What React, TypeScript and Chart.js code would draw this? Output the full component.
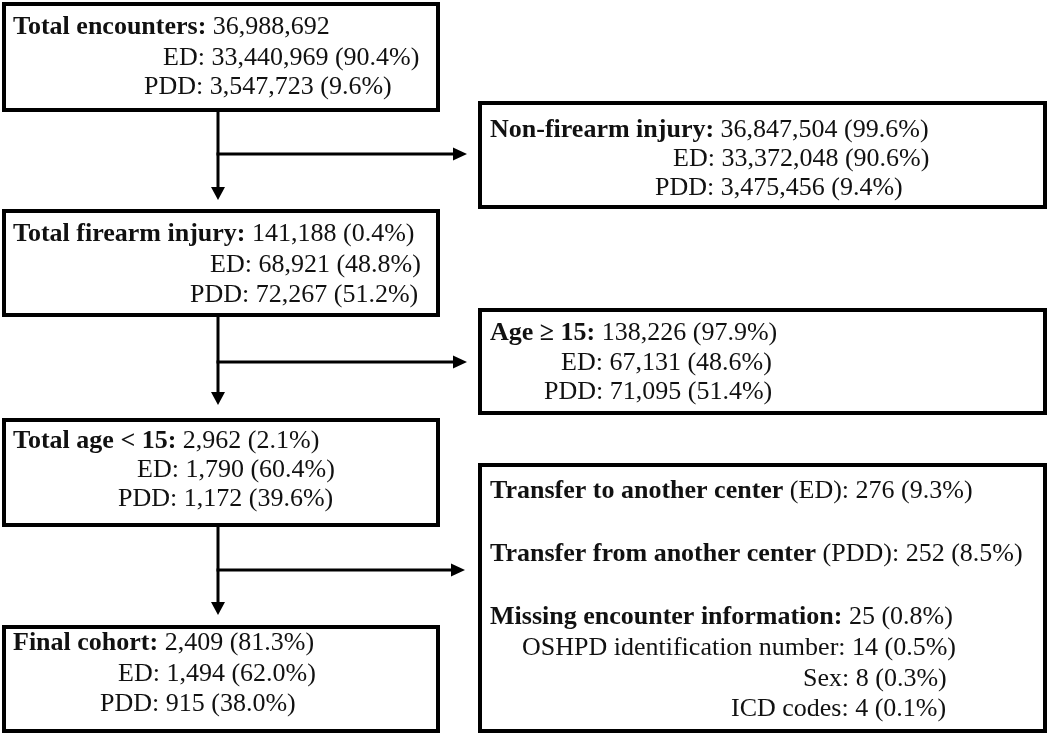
import React, { useEffect, useRef } from "react";
import { Chart, registerables } from "chart.js";

Chart.register(...registerables);

// ---------- Data ----------
const stageLabels = [
  "Total encounters:",
  "Non-firearm injury:",
  "Total firearm injury:",
  "Age \u2265 15:",
  "Total age < 15:",
  "Final cohort:",
];
const stageTotals = [
  "36,988,692",
  "36,847,504 (99.6%)",
  "141,188 (0.4%)",
  "138,226 (97.9%)",
  "2,962 (2.1%)",
  "2,409 (81.3%)",
];
const stageED = [
  "ED: 33,440,969 (90.4%)",
  "ED: 33,372,048 (90.6%)",
  "ED: 68,921 (48.8%)",
  "ED: 67,131 (48.6%)",
  "ED: 1,790 (60.4%)",
  "ED: 1,494 (62.0%)",
];
const stagePDD = [
  "PDD: 3,547,723 (9.6%)",
  "PDD: 3,475,456 (9.4%)",
  "PDD: 72,267 (51.2%)",
  "PDD: 71,095 (51.4%)",
  "PDD: 1,172 (39.6%)",
  "PDD: 915 (38.0%)",
];
const exclusionLabels = [
  "Transfer to another center",
  "Transfer from another center",
  "Missing encounter information:",
];
const exclusionValues = ["(ED): 276 (9.3%)", "(PDD): 252 (8.5%)", "25 (0.8%)"];
const missingItems = [
  "OSHPD identification number: 14 (0.5%)",
  "Sex: 8 (0.3%)",
  "ICD codes: 4 (0.1%)",
];

// ---------- Layout (positions in canvas units) ----------
const stageRects = [
  [4, 4, 438, 110],
  [480, 103, 1045, 207],
  [4, 211, 438, 315],
  [480, 310, 1045, 413],
  [4, 420, 438, 525],
  [4, 627, 438, 731],
];
const exclusionRect = [480, 465, 1045, 731];
// [titleX, edX, pddX], [titleY, edY, pddY] (baselines)
const stageTextX = [
  [13, 163, 144],
  [490, 673, 655],
  [13, 210, 190],
  [490, 561, 544],
  [13, 137, 118],
  [13, 118, 100],
];
const stageTextY = [
  [34, 65, 94],
  [137, 166, 195],
  [241, 272, 302],
  [340, 370, 399],
  [448, 477, 506],
  [650, 681, 711],
];
const exclusionTextX = [490, 490, 490];
const exclusionTextY = [498, 561, 624];
const missingTextX = [522, 803, 731];
const missingTextY = [655, 686, 716];
const connectors = [
  { x: 218, from: 110, tip: 200, branchY: 154, branchTip: 467 },
  { x: 218, from: 315, tip: 405, branchY: 362, branchTip: 467 },
  { x: 218, from: 525, tip: 615, branchY: 570, branchTip: 465 },
];

const FONT_FAMILY = '"Liberation Serif", "Times New Roman", serif';
const FONT_SIZE = 26;
const TEXT_COLOR = "#111";

type Seg = { t: string; b: boolean };
type TextLine = { segs: Seg[]; x: number; y: number };

function buildTextLines(): TextLine[] {
  const lines: TextLine[] = [];
  stageLabels.forEach((label, i) => {
    lines.push({
      segs: [
        { t: label + " ", b: true },
        { t: stageTotals[i], b: false },
      ],
      x: stageTextX[i][0],
      y: stageTextY[i][0],
    });
    lines.push({ segs: [{ t: stageED[i], b: false }], x: stageTextX[i][1], y: stageTextY[i][1] });
    lines.push({ segs: [{ t: stagePDD[i], b: false }], x: stageTextX[i][2], y: stageTextY[i][2] });
  });
  exclusionLabels.forEach((label, i) => {
    lines.push({
      segs: [
        { t: label + " ", b: true },
        { t: exclusionValues[i], b: false },
      ],
      x: exclusionTextX[i],
      y: exclusionTextY[i],
    });
  });
  missingItems.forEach((item, i) => {
    lines.push({ segs: [{ t: item, b: false }], x: missingTextX[i], y: missingTextY[i] });
  });
  return lines;
}

function rectPath(r: number[]) {
  return [
    { x: r[0], y: r[1] },
    { x: r[2], y: r[1] },
    { x: r[2], y: r[3] },
    { x: r[0], y: r[3] },
    { x: r[0], y: r[1] },
    { x: r[2], y: r[1] },
  ];
}

export default function App() {
  const ref = useRef<HTMLCanvasElement>(null);

  useEffect(() => {
    const canvas = ref.current;
    if (!canvas) return;

    const boxStyle = {
      showLine: true,
      borderColor: "#000",
      borderWidth: 4,
      pointRadius: 0,
      fill: false,
      tension: 0,
      clip: false,
      borderJoinStyle: "miter",
      borderCapStyle: "butt",
    };
    const connStyle = {
      showLine: true,
      borderColor: "#000",
      borderWidth: 3,
      pointRadius: 0,
      fill: false,
      tension: 0,
      clip: false,
      borderJoinStyle: "miter",
      borderCapStyle: "butt",
    };

    const datasets: any[] = [];
    [...stageRects, exclusionRect].forEach((r) => {
      datasets.push({ ...boxStyle, data: rectPath(r) });
    });
    connectors.forEach((c) => {
      datasets.push({
        ...connStyle,
        data: [
          { x: c.x, y: c.from },
          { x: c.x, y: c.tip - 10 },
        ],
      });
      datasets.push({
        ...connStyle,
        data: [
          { x: c.x - 1.5, y: c.branchY },
          { x: c.branchTip - 10, y: c.branchY },
        ],
      });
    });

    const bgPlugin = {
      id: "bg",
      beforeDraw(chart: any) {
        const ctx = chart.ctx;
        ctx.save();
        ctx.fillStyle = "#fff";
        ctx.fillRect(0, 0, chart.width, chart.height);
        ctx.restore();
      },
    };

    const textLines = buildTextLines();
    const overlayPlugin = {
      id: "overlay",
      afterDatasetsDraw(chart: any) {
        const ctx = chart.ctx as CanvasRenderingContext2D;
        const xs = chart.scales.x;
        const ys = chart.scales.y;
        ctx.save();
        // arrowheads
        ctx.fillStyle = "#000";
        connectors.forEach((c) => {
          const px = xs.getPixelForValue(c.x);
          const tipY = ys.getPixelForValue(c.tip);
          ctx.beginPath();
          ctx.moveTo(px, tipY);
          ctx.lineTo(px - 7, tipY - 13);
          ctx.lineTo(px + 7, tipY - 13);
          ctx.closePath();
          ctx.fill();
          const tipX = xs.getPixelForValue(c.branchTip);
          const by = ys.getPixelForValue(c.branchY);
          ctx.beginPath();
          ctx.moveTo(tipX, by);
          ctx.lineTo(tipX - 14, by - 6.5);
          ctx.lineTo(tipX - 14, by + 6.5);
          ctx.closePath();
          ctx.fill();
        });
        // text
        ctx.fillStyle = TEXT_COLOR;
        ctx.textBaseline = "alphabetic";
        ctx.textAlign = "left";
        textLines.forEach((ln) => {
          let x = xs.getPixelForValue(ln.x);
          const y = ys.getPixelForValue(ln.y);
          ln.segs.forEach((s) => {
            ctx.font = `${s.b ? "bold " : ""}${FONT_SIZE}px ${FONT_FAMILY}`;
            ctx.fillText(s.t, x, y);
            x += ctx.measureText(s.t).width;
          });
        });
        ctx.restore();
      },
    };

    const chart = new Chart(canvas, {
      type: "scatter",
      data: { datasets },
      options: {
        animation: false,
        responsive: false,
        events: [],
        layout: { padding: 0 },
        plugins: {
          legend: { display: false },
          tooltip: { enabled: false },
        },
        scales: {
          x: { type: "linear", min: 0, max: 1050, display: false },
          y: { type: "linear", min: 0, max: 734, reverse: true, display: false },
        },
      } as any,
      plugins: [bgPlugin, overlayPlugin],
    });

    return () => chart.destroy();
  }, []);

  return (
    <canvas
      ref={ref}
      width={1050}
      height={734}
      style={{ position: "fixed", left: 0, top: 0, display: "block" }}
    />
  );
}
